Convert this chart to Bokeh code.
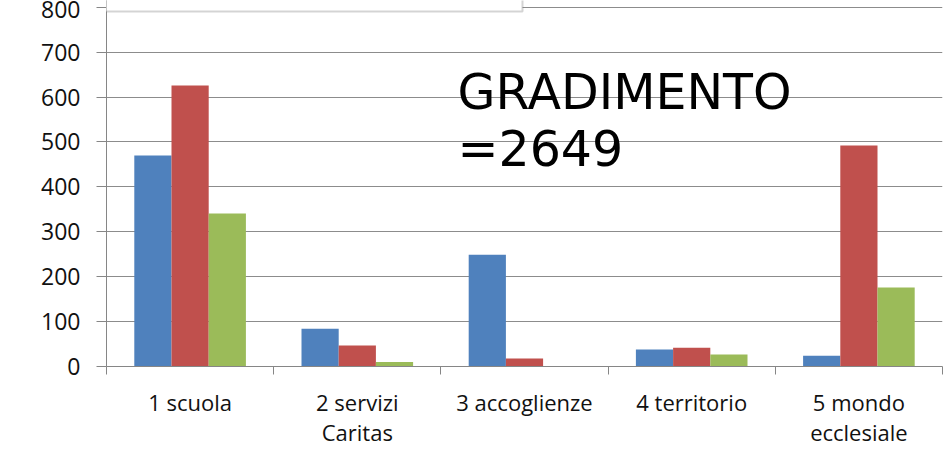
from bokeh.plotting import figure
from bokeh.models import FixedTicker, CustomJSTickFormatter, Label, BoxAnnotation, Range1d
from bokeh.embed import file_html
from bokeh.resources import INLINE
import numpy as np

categories = ["1 scuola", "2 servizi\nCaritas", "3 accoglienze", "4 territorio", "5 mondo\necclesiale"]
blue_vals = [470, 84, 249, 38, 24]
red_vals = [626, 47, 18, 42, 492]
green_vals = [341, 10, 0, 27, 176]
y_ticks = [0, 100, 200, 300, 400, 500, 600, 700, 800]
title_lines = ["GRADIMENTO", "=2649"]

colors = ["#4F81BD", "#C0504D", "#9BBB59"]
series = [blue_vals, red_vals, green_vals]

p = figure(width=951, height=459, output_backend="svg", toolbar_location=None,
           title=None, x_range=Range1d(0, len(categories)), y_range=Range1d(0, 815.1),
           min_border_left=106, min_border_right=9, min_border_top=0, min_border_bottom=93)
p.outline_line_color = None
p.background_fill_color = "white"
p.border_fill_color = "white"

centers = np.arange(len(categories)) + 0.5
bw = 0.2225
for k, (vals, c) in enumerate(zip(series, colors)):
    p.vbar(x=centers + (k - 1) * bw, top=vals, width=bw, bottom=0,
           fill_color=c, line_color=None)

# axes
xa = p.xaxis[0]
xa.ticker = FixedTicker(ticks=list(centers), minor_ticks=list(range(len(categories) + 1)))
xa.formatter = CustomJSTickFormatter(args=dict(labels=categories),
                                     code="return labels[Math.floor(tick)];")
xa.major_tick_line_color = None
xa.major_tick_out = 0
xa.major_tick_in = 0
xa.minor_tick_out = 8
xa.minor_tick_in = 0
xa.minor_tick_line_color = "#868686"
xa.axis_line_color = "#868686"
xa.major_label_text_font = "Open Sans"
xa.major_label_text_font_size = "22px"
xa.major_label_text_color = "#111111"
xa.major_label_standoff = 12
xa.major_label_text_line_height = 1.0

ya = p.yaxis[0]
ya.ticker = FixedTicker(ticks=y_ticks)
ya.major_tick_out = 10
ya.major_tick_in = 0
ya.minor_tick_line_color = None
ya.major_tick_line_color = "#868686"
ya.axis_line_color = "#868686"
ya.major_label_text_font = "Open Sans"
ya.major_label_text_font_size = "23px"
ya.major_label_text_color = "#111111"
ya.major_label_standoff = 16

p.xgrid.grid_line_color = None
p.ygrid.grid_line_color = "#8c8c8c"
p.ygrid.grid_line_width = 1

# overlapping box at top-left (screenshot artifact)
p.add_layout(BoxAnnotation(left=-1.0, right=2.488, bottom=790.6, top=900,
                           fill_color="white", fill_alpha=1,
                           line_color="#707070", line_width=2))

p.add_layout(Label(x=2.099, y=610.0, text=title_lines[0], text_font="DejaVu Sans",
                   text_font_size="49px", text_color="black", text_baseline="alphabetic"))
p.add_layout(Label(x=2.099, y=483.0, text=title_lines[1], text_font="DejaVu Sans",
                   text_font_size="49px", text_color="black", text_baseline="alphabetic"))

open("out.html", "w").write(file_html(p, INLINE))
